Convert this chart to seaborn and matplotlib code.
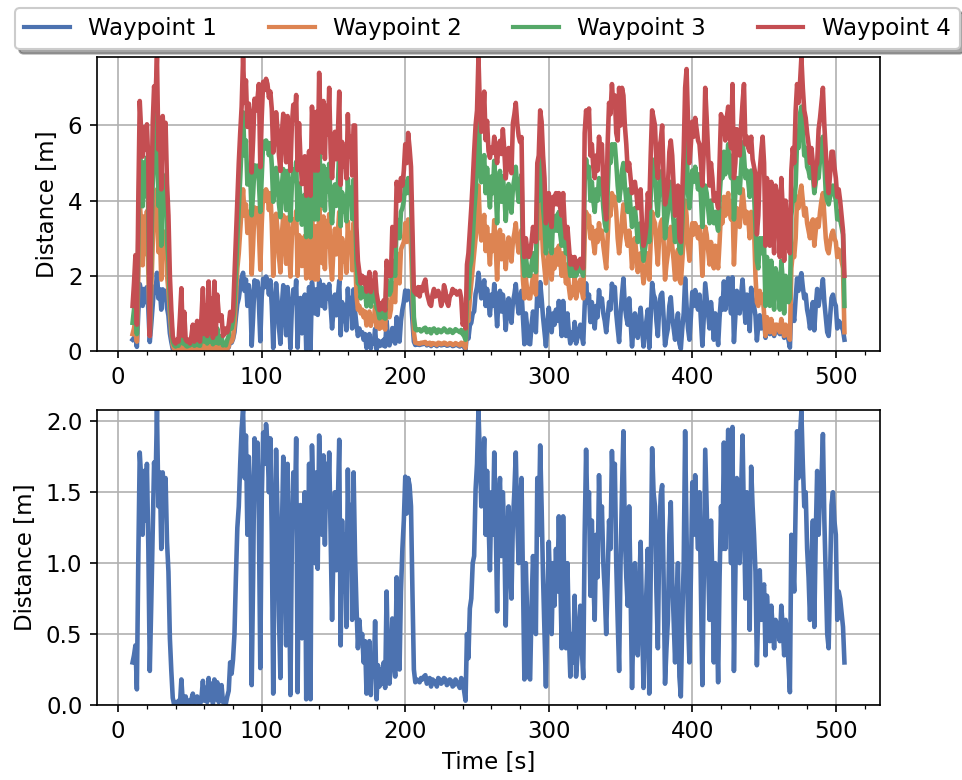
import numpy as np
import pandas as pd
import matplotlib
matplotlib.use("Agg")
import matplotlib.pyplot as plt
from matplotlib.lines import Line2D
from matplotlib.ticker import AutoMinorLocator
import seaborn as sns

# One sample per second
time_s = np.arange(10, 507, 1)

# Distance to each waypoint [m]; each row covers 20 s
wp1 = [
    0.30, 0.35, 0.42, 0.11, 1.03, 1.78, 1.60, 1.20, 1.65, 1.30, 1.70, 1.10, 0.24, 0.70, 1.20, 1.71, 1.55, 2.08, 1.40, 1.64,
    1.10, 1.64, 1.45, 1.60, 1.15, 0.94, 0.47, 0.24, 0.05, 0.00, 0.02, 0.00, 0.03, 0.00, 0.18, 0.02, 0.01, 0.06, 0.00, 0.03,
    0.01, 0.04, 0.08, 0.01, 0.02, 0.06, 0.02, 0.00, 0.05, 0.17, 0.03, 0.12, 0.02, 0.19, 0.04, 0.15, 0.01, 0.18, 0.04, 0.16,
    0.02, 0.05, 0.14, 0.02, 0.03, 0.01, 0.06, 0.10, 0.30, 0.22, 0.32, 0.50, 0.90, 1.25, 1.40, 1.70, 1.95, 2.08, 1.60, 1.90,
    1.20, 1.75, 1.50, 0.14, 0.90, 1.88, 1.60, 1.85, 1.30, 0.26, 1.45, 1.92, 1.70, 1.98, 1.85, 1.50, 1.88, 1.20, 0.08, 1.10,
    1.80, 1.34, 0.63, 0.19, 1.20, 1.75, 1.10, 0.42, 1.70, 0.90, 0.07, 1.17, 1.64, 1.30, 1.88, 0.09, 1.20, 1.41, 0.47, 1.00,
    1.50, 0.04, 0.80, 1.70, 0.04, 1.83, 1.40, 1.00, 1.64, 0.96, 1.90, 1.50, 1.20, 1.76, 1.13, 1.70, 1.40, 1.78, 1.20, 0.60,
    1.10, 1.50, 0.95, 1.40, 1.87, 0.42, 1.30, 0.80, 1.20, 0.55, 1.66, 1.00, 1.41, 0.60, 1.64, 1.06, 0.70, 0.40, 0.60, 0.45,
    0.50, 0.30, 0.45, 0.08, 0.25, 0.45, 0.07, 0.30, 0.20, 0.59, 0.04, 0.28, 0.13, 0.25, 0.15, 0.30, 0.12, 0.80, 0.30, 0.15,
    0.30, 0.61, 0.35, 0.20, 0.90, 0.55, 0.25, 0.80, 1.10, 1.30, 1.61, 1.35, 1.60, 1.55, 1.40, 0.80, 0.25, 0.16, 0.18, 0.17,
    0.16, 0.19, 0.18, 0.20, 0.21, 0.15, 0.17, 0.19, 0.13, 0.18, 0.17, 0.16, 0.13, 0.19, 0.18, 0.15, 0.16, 0.19, 0.18, 0.14,
    0.15, 0.18, 0.17, 0.13, 0.14, 0.18, 0.16, 0.14, 0.12, 0.19, 0.17, 0.10, 0.03, 0.50, 0.33, 0.68, 0.75, 1.00, 1.05, 1.52,
    1.70, 2.08, 1.75, 1.40, 1.60, 1.88, 1.20, 1.65, 1.30, 0.95, 1.50, 1.20, 1.78, 1.30, 0.66, 1.40, 1.60, 1.05, 1.50, 1.20,
    0.56, 1.10, 1.40, 1.00, 0.75, 1.30, 1.50, 1.78, 1.30, 1.00, 1.40, 1.60, 0.90, 0.18, 1.00, 0.60, 0.20, 0.18, 0.70, 1.05,
    0.80, 0.50, 1.60, 1.20, 1.83, 1.40, 0.90, 0.50, 0.13, 0.70, 1.15, 0.80, 0.50, 1.00, 0.70, 1.10, 0.80, 1.33, 0.90, 0.40,
    1.33, 0.70, 0.40, 1.00, 0.50, 0.20, 0.50, 0.30, 0.77, 0.20, 0.35, 0.55, 0.70, 0.40, 0.19, 1.20, 1.80, 1.30, 1.50, 0.77,
    1.30, 0.90, 0.60, 1.20, 0.90, 1.62, 1.20, 1.40, 1.00, 0.80, 0.50, 0.90, 1.30, 1.10, 1.79, 1.40, 1.70, 1.00, 0.60, 0.24,
    1.00, 1.50, 1.93, 1.20, 0.90, 0.70, 1.40, 0.80, 0.12, 0.60, 1.00, 0.70, 0.35, 0.80, 1.15, 0.60, 0.12, 0.50, 0.80, 1.10,
    0.08, 0.90, 1.81, 1.50, 1.40, 0.80, 0.40, 1.20, 1.48, 1.55, 0.90, 0.15, 0.40, 0.60, 1.20, 1.43, 0.90, 0.60, 0.30, 0.70,
    1.00, 0.20, 0.06, 0.60, 1.00, 1.93, 1.20, 0.60, 0.30, 0.90, 1.57, 1.20, 1.62, 1.30, 1.10, 1.50, 0.80, 0.14, 0.90, 1.80,
    1.40, 1.00, 0.60, 1.30, 0.90, 0.30, 1.00, 0.60, 0.16, 0.90, 1.40, 1.10, 1.85, 1.10, 1.50, 1.94, 1.40, 1.00, 1.96, 0.24,
    0.90, 1.60, 1.20, 1.00, 1.50, 1.90, 1.30, 0.75, 1.50, 1.20, 0.53, 1.68, 1.40, 1.20, 0.94, 0.28, 0.70, 0.95, 0.60, 0.80,
    0.85, 0.35, 0.77, 0.60, 0.45, 0.70, 0.55, 0.40, 0.60, 0.57, 0.50, 0.45, 0.70, 0.55, 0.35, 0.60, 0.50, 0.30, 0.09, 1.20,
    1.00, 0.80, 1.40, 1.93, 1.60, 1.90, 2.07, 1.70, 1.40, 1.50, 1.10, 0.90, 0.60, 1.00, 1.30, 0.55, 1.20, 1.65, 1.20, 1.50,
    1.60, 1.91, 1.30, 0.90, 0.50, 0.40, 0.90, 1.41, 1.50, 1.30, 1.20, 0.60, 0.80, 0.75, 0.65, 0.55, 0.30,
]

wp2 = [
    0.45, 0.60, 0.85, 0.25, 2.00, 3.94, 3.42, 2.28, 3.58, 2.58, 3.72, 2.00, 0.40, 1.60, 2.79, 3.61, 3.36, 4.30, 2.63, 3.20,
    1.90, 3.20, 2.75, 3.11, 2.02, 1.60, 1.00, 0.50, 0.15, 0.05, 0.05, 0.04, 0.03, 0.04, 0.20, 0.04, 0.04, 0.06, 0.03, 0.04,
    0.03, 0.05, 0.08, 0.03, 0.04, 0.07, 0.04, 0.03, 0.06, 0.18, 0.05, 0.13, 0.04, 0.20, 0.06, 0.16, 0.03, 0.19, 0.06, 0.17,
    0.04, 0.06, 0.14, 0.04, 0.05, 0.03, 0.07, 0.12, 0.32, 0.25, 0.35, 0.70, 1.40, 2.20, 2.60, 3.20, 3.80, 4.30, 3.60, 3.90,
    3.14, 3.70, 3.44, 2.04, 2.82, 3.82, 3.54, 3.80, 3.24, 2.16, 3.38, 4.25, 3.99, 4.30, 4.18, 3.75, 4.20, 3.39, 2.00, 2.96,
    3.65, 3.21, 2.51, 2.09, 3.08, 3.61, 2.96, 2.32, 3.55, 2.77, 1.98, 3.04, 3.50, 3.17, 3.72, 2.00, 3.08, 2.98, 2.26, 2.67,
    3.06, 1.93, 2.52, 3.21, 1.93, 3.74, 2.78, 1.90, 3.32, 1.90, 3.90, 3.02, 2.34, 3.58, 2.18, 3.46, 2.78, 3.64, 2.34, 1.90,
    2.76, 3.25, 2.57, 3.12, 3.70, 1.92, 3.00, 2.39, 2.87, 2.08, 3.45, 2.64, 3.14, 2.15, 3.41, 2.71, 1.50, 1.10, 1.20, 1.00,
    1.10, 0.90, 1.05, 0.68, 0.85, 1.05, 0.67, 0.90, 0.80, 1.19, 0.64, 0.86, 0.59, 0.81, 0.63, 0.90, 0.57, 1.40, 1.00, 0.90,
    1.10, 1.80, 1.40, 1.30, 2.60, 2.20, 1.80, 2.70, 2.80, 2.90, 3.40, 2.90, 3.50, 3.20, 2.80, 1.60, 0.50, 0.22, 0.21, 0.20,
    0.19, 0.22, 0.21, 0.23, 0.24, 0.18, 0.20, 0.22, 0.16, 0.21, 0.20, 0.19, 0.16, 0.22, 0.21, 0.18, 0.19, 0.22, 0.21, 0.17,
    0.18, 0.21, 0.20, 0.16, 0.17, 0.21, 0.19, 0.17, 0.15, 0.22, 0.20, 0.14, 0.08, 0.90, 0.80, 1.40, 1.80, 2.20, 2.60, 3.00,
    3.36, 4.40, 3.44, 2.94, 3.22, 3.62, 2.66, 3.30, 2.80, 2.30, 3.08, 2.66, 3.48, 2.80, 1.90, 2.94, 3.22, 2.44, 3.08, 2.66,
    2.18, 2.73, 3.02, 2.62, 2.38, 2.92, 3.13, 3.40, 2.92, 2.62, 3.02, 3.22, 1.90, 1.40, 1.95, 1.60, 1.40, 1.40, 1.70, 2.00,
    1.80, 1.50, 3.20, 3.00, 4.00, 3.40, 2.60, 2.20, 1.80, 2.20, 2.60, 2.20, 1.90, 2.50, 2.20, 2.70, 2.30, 2.80, 2.40, 2.00,
    2.60, 2.20, 1.80, 2.30, 1.70, 1.40, 1.70, 1.50, 2.00, 1.40, 1.60, 1.80, 1.90, 1.60, 1.40, 3.00, 3.70, 3.40, 3.60, 3.00,
    3.30, 2.90, 2.60, 3.20, 2.90, 3.40, 3.00, 3.20, 2.80, 2.50, 2.20, 3.00, 3.80, 3.60, 4.20, 3.90, 4.10, 3.70, 3.00, 2.60,
    3.00, 3.50, 3.90, 3.30, 3.00, 2.80, 3.20, 2.90, 2.20, 2.70, 3.00, 2.60, 2.10, 2.40, 2.60, 2.20, 1.80, 2.10, 2.30, 2.60,
    1.90, 2.90, 3.70, 3.50, 3.40, 2.80, 2.30, 3.10, 3.40, 3.50, 2.90, 1.90, 2.30, 2.60, 3.10, 3.30, 2.80, 2.40, 1.90, 2.40,
    2.70, 1.90, 1.80, 2.40, 3.00, 4.00, 3.60, 2.80, 2.40, 3.00, 3.40, 3.10, 3.40, 3.20, 3.00, 3.30, 2.80, 2.00, 2.90, 3.30,
    3.10, 2.70, 2.30, 2.90, 2.60, 2.20, 2.80, 2.50, 2.20, 2.90, 3.70, 3.40, 4.10, 3.60, 3.90, 4.20, 3.70, 3.50, 4.00, 2.30,
    3.20, 3.80, 3.50, 3.30, 3.80, 4.30, 3.90, 3.40, 3.70, 3.50, 3.00, 3.70, 3.50, 3.30, 2.00, 1.30, 1.20, 1.60, 1.30, 1.50,
    1.00, 0.40, 0.90, 0.70, 0.50, 0.85, 0.65, 0.45, 0.70, 0.70, 0.60, 0.50, 0.85, 0.65, 0.40, 0.70, 0.60, 0.40, 0.30, 2.20,
    2.60, 2.50, 3.00, 4.10, 3.80, 4.20, 4.40, 4.00, 3.60, 3.80, 3.40, 3.20, 3.00, 3.40, 3.50, 2.80, 3.20, 3.50, 3.30, 3.70,
    4.00, 4.20, 3.60, 3.00, 2.70, 2.60, 2.90, 3.10, 3.20, 3.00, 2.90, 2.50, 2.70, 2.60, 2.40, 2.20, 0.50,
]

wp3 = [
    0.75, 1.10, 1.50, 0.45, 3.00, 5.35, 4.88, 3.85, 5.02, 4.12, 5.15, 3.60, 0.50, 2.60, 4.41, 5.04, 4.85, 6.40, 3.86, 4.70,
    2.80, 4.70, 4.04, 4.57, 2.97, 2.40, 1.40, 0.80, 0.25, 0.15, 0.12, 0.15, 0.14, 0.30, 0.69, 0.20, 0.40, 0.15, 0.12, 0.14,
    0.15, 0.20, 0.30, 0.14, 0.16, 0.25, 0.15, 0.14, 0.35, 0.60, 0.25, 0.50, 0.20, 0.70, 0.25, 0.55, 0.18, 0.65, 0.22, 0.60,
    0.20, 0.30, 0.40, 0.15, 0.18, 0.15, 0.30, 0.40, 0.87, 0.60, 0.80, 1.20, 2.00, 3.00, 3.80, 4.60, 5.50, 6.35, 5.20, 5.60,
    4.43, 4.85, 4.66, 3.61, 4.19, 4.94, 4.73, 4.93, 4.51, 3.70, 4.61, 5.57, 5.38, 5.60, 5.52, 5.21, 5.53, 4.95, 3.97, 4.30,
    4.87, 4.50, 3.91, 3.56, 4.39, 4.84, 4.30, 3.75, 4.79, 4.14, 3.47, 4.42, 4.83, 4.54, 5.03, 3.49, 4.45, 4.08, 3.36, 3.77,
    4.16, 3.03, 3.62, 4.31, 3.03, 5.06, 4.25, 3.50, 4.71, 3.50, 5.60, 4.45, 3.87, 4.93, 3.74, 4.83, 4.25, 4.98, 3.87, 3.40,
    4.02, 4.43, 3.86, 4.32, 5.40, 3.32, 4.22, 3.71, 4.11, 3.45, 4.59, 3.92, 4.34, 3.51, 4.56, 3.98, 2.40, 1.80, 1.90, 1.40,
    1.68, 1.45, 1.63, 1.19, 1.39, 1.63, 1.18, 1.45, 1.33, 1.79, 1.15, 1.07, 0.87, 1.03, 0.90, 1.10, 0.86, 1.90, 1.60, 1.50,
    1.60, 2.40, 2.10, 2.00, 3.50, 3.20, 3.00, 3.70, 3.80, 4.00, 4.50, 4.20, 4.60, 4.40, 4.10, 2.40, 0.90, 0.58, 0.55, 0.57,
    0.58, 0.52, 0.55, 0.60, 0.62, 0.50, 0.56, 0.58, 0.47, 0.57, 0.60, 0.54, 0.48, 0.57, 0.55, 0.50, 0.54, 0.60, 0.56, 0.50,
    0.50, 0.57, 0.55, 0.48, 0.52, 0.58, 0.55, 0.53, 0.50, 0.56, 0.45, 0.40, 0.30, 1.50, 1.40, 2.20, 2.40, 3.00, 3.70, 4.20,
    4.93, 6.97, 5.02, 4.49, 4.79, 5.21, 4.20, 4.87, 4.35, 3.82, 4.64, 4.20, 5.06, 4.35, 3.40, 4.49, 4.79, 3.97, 4.64, 4.20,
    3.46, 4.10, 4.44, 3.97, 3.68, 4.33, 4.58, 4.90, 4.33, 3.97, 4.44, 4.69, 2.50, 2.00, 2.50, 2.20, 2.00, 2.00, 2.30, 2.60,
    2.40, 2.10, 4.20, 4.00, 5.20, 4.60, 3.80, 3.40, 2.60, 3.00, 3.50, 3.00, 2.60, 3.50, 3.20, 3.60, 3.20, 3.70, 3.10, 2.80,
    3.50, 3.00, 2.60, 3.00, 2.40, 2.00, 2.20, 2.00, 2.40, 2.00, 2.10, 2.30, 2.40, 2.10, 2.00, 4.50, 5.10, 4.70, 4.90, 4.00,
    4.50, 4.00, 3.70, 4.30, 4.00, 4.60, 4.20, 4.40, 3.80, 3.40, 3.20, 4.20, 5.20, 5.00, 5.50, 5.30, 5.50, 5.00, 4.40, 4.00,
    4.30, 4.80, 5.00, 4.40, 4.00, 3.70, 4.30, 3.80, 3.30, 3.60, 3.80, 3.40, 2.90, 3.10, 3.40, 2.80, 2.40, 2.70, 3.00, 3.40,
    2.90, 4.10, 5.10, 4.90, 4.70, 4.00, 3.60, 4.40, 4.60, 4.80, 4.00, 3.00, 3.40, 3.70, 4.30, 4.50, 3.90, 3.40, 2.90, 3.30,
    3.50, 2.70, 2.60, 3.40, 4.30, 5.40, 5.65, 4.20, 3.80, 4.30, 4.80, 4.50, 4.90, 4.60, 4.30, 4.70, 4.10, 3.30, 4.20, 4.40,
    4.20, 3.80, 3.40, 4.00, 3.60, 3.40, 3.70, 3.40, 3.20, 4.10, 4.70, 4.60, 5.30, 4.70, 5.00, 5.50, 4.80, 4.60, 5.20, 3.50,
    4.20, 4.60, 4.40, 4.20, 4.90, 5.55, 5.20, 4.60, 4.80, 4.50, 4.10, 4.80, 4.50, 4.20, 3.30, 2.40, 2.20, 3.00, 2.60, 3.00,
    2.80, 1.20, 2.50, 2.00, 1.20, 2.40, 1.80, 1.10, 2.20, 2.00, 1.60, 1.10, 2.40, 1.90, 1.00, 2.00, 1.60, 1.30, 1.40, 3.60,
    4.00, 4.00, 4.40, 5.60, 5.40, 6.30, 6.50, 5.80, 5.20, 5.40, 4.90, 4.80, 4.60, 4.90, 4.70, 4.20, 4.50, 4.80, 4.60, 5.10,
    5.50, 5.70, 5.00, 4.20, 4.00, 3.90, 4.10, 4.30, 4.40, 4.20, 4.00, 3.50, 3.70, 3.50, 3.30, 3.10, 1.20,
]

wp4 = [
    1.20, 1.80, 2.55, 0.70, 4.00, 6.65, 5.85, 5.17, 5.95, 5.35, 6.03, 5.00, 0.40, 3.50, 6.01, 7.04, 6.74, 7.80, 5.36, 6.20,
    4.30, 6.25, 5.54, 6.07, 4.47, 3.60, 2.00, 1.10, 0.40, 0.25, 0.20, 0.30, 0.25, 0.90, 1.67, 0.40, 1.04, 0.30, 0.25, 0.30,
    0.20, 0.40, 0.70, 0.25, 0.30, 0.80, 0.30, 0.25, 0.90, 1.67, 0.45, 1.20, 0.40, 1.85, 0.50, 1.40, 0.35, 1.85, 0.45, 1.50,
    1.00, 0.80, 0.95, 0.40, 0.45, 0.60, 0.50, 0.70, 1.04, 0.80, 1.00, 2.00, 3.00, 4.00, 5.00, 5.80, 6.50, 7.80, 6.60, 7.20,
    5.96, 6.58, 6.29, 4.75, 5.61, 6.71, 6.40, 6.69, 7.10, 4.89, 6.23, 7.16, 6.94, 7.24, 7.10, 6.74, 6.90, 6.44, 5.28, 5.66,
    6.35, 5.91, 5.21, 4.79, 5.78, 6.31, 5.66, 5.02, 6.25, 5.47, 4.79, 6.02, 6.55, 6.17, 6.81, 4.81, 6.06, 5.11, 4.44, 4.81,
    5.18, 4.13, 4.67, 5.32, 4.13, 6.50, 5.77, 4.80, 6.36, 4.80, 7.40, 6.03, 5.28, 6.65, 5.11, 6.52, 5.77, 7.00, 5.28, 4.60,
    5.31, 5.83, 5.10, 5.69, 6.90, 4.42, 5.56, 4.91, 5.43, 4.59, 6.30, 5.18, 5.71, 4.67, 6.00, 6.00, 3.30, 2.40, 2.10, 1.80,
    2.00, 1.80, 1.95, 1.58, 1.75, 2.10, 1.57, 1.80, 1.70, 2.09, 1.54, 1.32, 1.09, 1.27, 1.13, 1.35, 1.08, 2.40, 2.00, 2.00,
    2.00, 3.30, 2.80, 2.80, 4.50, 4.20, 4.00, 4.60, 4.40, 4.80, 5.50, 5.00, 5.80, 5.40, 4.90, 3.20, 1.60, 1.55, 1.50, 1.70,
    1.45, 1.70, 1.60, 1.80, 1.90, 1.55, 1.40, 1.25, 1.20, 1.50, 1.65, 1.45, 1.50, 1.60, 1.45, 1.20, 1.35, 1.75, 1.60, 1.30,
    1.20, 1.45, 1.50, 1.65, 1.55, 1.60, 1.50, 1.55, 1.60, 1.40, 0.70, 0.87, 0.60, 2.30, 2.60, 3.20, 3.80, 4.50, 5.30, 6.00,
    6.40, 7.82, 6.46, 5.83, 6.06, 6.90, 5.61, 6.12, 5.32, 5.14, 5.41, 5.27, 5.70, 5.32, 5.00, 5.47, 5.59, 5.24, 5.90, 5.34,
    4.59, 5.00, 5.40, 4.91, 4.73, 6.06, 6.29, 6.60, 6.06, 5.72, 5.56, 5.69, 3.10, 2.50, 3.00, 2.70, 2.50, 2.60, 2.90, 3.30,
    3.10, 2.90, 5.00, 5.20, 6.40, 6.10, 5.20, 4.60, 3.40, 3.80, 4.20, 3.60, 3.30, 4.10, 3.90, 4.20, 3.90, 4.20, 3.80, 3.60,
    4.20, 3.40, 3.00, 3.30, 2.80, 2.30, 2.50, 2.30, 2.50, 2.20, 2.30, 2.40, 2.45, 2.30, 2.20, 5.80, 6.40, 6.00, 6.45, 5.20,
    5.50, 4.90, 4.60, 5.20, 4.80, 5.70, 5.30, 5.50, 4.40, 3.90, 3.50, 5.50, 6.60, 6.30, 7.10, 6.50, 6.80, 5.80, 5.60, 7.00,
    6.00, 7.00, 6.80, 6.00, 5.50, 4.80, 5.00, 4.60, 4.20, 4.40, 4.50, 4.20, 3.80, 4.00, 4.30, 3.30, 2.80, 3.00, 3.30, 4.20,
    3.80, 5.20, 6.40, 6.20, 6.00, 5.00, 4.60, 5.40, 5.60, 6.00, 4.60, 3.90, 4.10, 4.40, 5.30, 5.60, 5.20, 4.40, 3.60, 4.00,
    4.40, 3.00, 2.90, 4.20, 5.30, 7.00, 7.50, 6.10, 5.00, 5.50, 6.10, 5.70, 6.20, 5.90, 5.60, 5.50, 5.00, 4.40, 5.30, 7.00,
    6.20, 5.30, 4.40, 5.00, 4.60, 4.00, 4.20, 4.00, 3.80, 5.00, 6.30, 5.80, 6.20, 5.60, 6.20, 6.50, 5.80, 5.40, 7.10, 4.60,
    5.00, 5.90, 5.50, 5.20, 6.00, 6.60, 7.10, 5.50, 5.70, 5.40, 5.30, 5.70, 5.10, 4.90, 4.70, 3.10, 3.60, 4.80, 5.30, 5.70,
    5.00, 2.80, 4.60, 4.00, 2.80, 4.50, 3.60, 2.60, 4.40, 4.20, 3.40, 2.50, 4.60, 3.80, 2.40, 4.00, 3.40, 2.80, 2.60, 4.80,
    5.40, 5.00, 6.40, 7.10, 6.60, 7.10, 7.81, 7.00, 6.40, 6.20, 5.80, 5.50, 5.00, 5.40, 5.00, 4.40, 4.90, 5.00, 5.90, 6.20,
    6.60, 7.00, 6.00, 5.30, 4.60, 4.20, 4.70, 5.30, 5.30, 4.90, 4.60, 4.10, 4.30, 4.00, 3.60, 3.20, 2.00,
]

labels = ["Waypoint 1", "Waypoint 2", "Waypoint 3", "Waypoint 4"]
series = [wp1, wp2, wp3, wp4]

df = pd.DataFrame({
    "Time [s]": np.tile(time_s, len(series)),
    "Distance [m]": np.concatenate([np.asarray(s, dtype=float) for s in series]),
    "Waypoint": np.repeat(labels, len(time_s)),
})

plt.rcParams["font.family"] = ["DejaVu Sans"]
plt.rcParams["font.size"] = 11
palette = sns.color_palette("deep", 4)
LW = 2.2

fig = plt.figure(figsize=(962 / 150, 780 / 150), dpi=150)
ax1 = fig.add_axes([0.1008, 0.550, 0.8140, 0.3769])
ax2 = fig.add_axes([0.1008, 0.0962, 0.8140, 0.3782])

# Upper panel: all waypoints
sns.lineplot(data=df, x="Time [s]", y="Distance [m]", hue="Waypoint",
             hue_order=labels, palette=palette, estimator=None, sort=False,
             linewidth=LW, legend=False, ax=ax1)
ax1.set_ylim(0, df["Distance [m]"].max())
ax1.set_xlabel("")
ax1.set_ylabel("Distance [m]")

# Lower panel: waypoint 1 only
d1 = df[df["Waypoint"] == "Waypoint 1"]
sns.lineplot(data=d1, x="Time [s]", y="Distance [m]", color=palette[0],
             estimator=None, sort=False, linewidth=LW, ax=ax2)
ax2.set_ylim(0, d1["Distance [m]"].max())
ax2.set_xlabel("Time [s]")
ax2.set_ylabel("Distance [m]")
ax2.set_yticks([0.0, 0.5, 1.0, 1.5, 2.0])

for ax in (ax1, ax2):
    ax.grid(True, color="#b0b0b0", linewidth=0.8)
    ax.set_axisbelow(True)
    ax.set_xticks([0, 100, 200, 300, 400, 500])
    ax.xaxis.set_minor_locator(AutoMinorLocator(5))
    for sp in ax.spines.values():
        sp.set_color("black")
        sp.set_linewidth(0.8)

handles = [Line2D([], [], color=c, linewidth=2.0) for c in palette]
fig.legend(handles, labels, loc="upper left", ncol=4, mode="expand",
           bbox_to_anchor=(0.0156, 0.93, 0.982, 0.0597), borderaxespad=0,
           shadow=True, fancybox=True, framealpha=1.0)

fig.savefig("out.png", dpi=150)
